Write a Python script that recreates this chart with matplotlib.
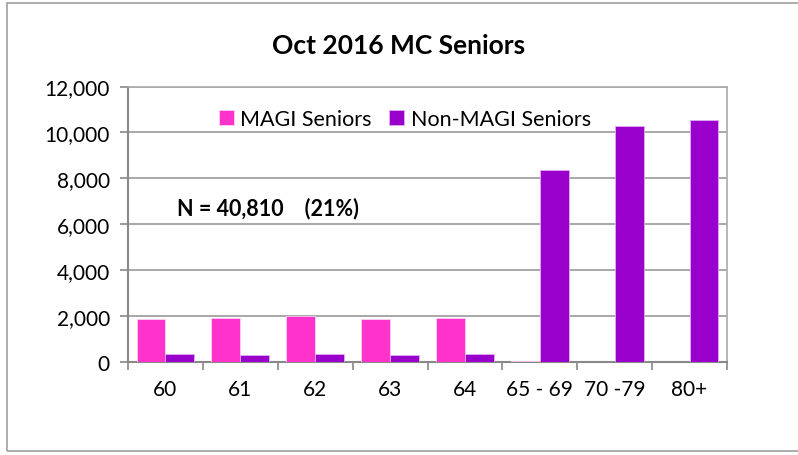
import numpy as np
import matplotlib.pyplot as plt
from matplotlib.patches import Rectangle

# Data
categories = ["60", "61", "62", "63", "64", "65 - 69", "70 -79", "80+"]
magi = [1870, 1935, 1995, 1880, 1920, 60, 0, 0]
non_magi = [350, 320, 350, 320, 350, 8380, 10275, 10525]
yticks = [0, 2000, 4000, 6000, 8000, 10000, 12000]

plt.rcParams['font.family'] = ['Lato', 'DejaVu Sans']

fig = plt.figure(figsize=(7.98, 4.56), dpi=100)
ax = fig.add_axes([128 / 798, 93 / 456, 599 / 798, 275.5 / 456])

# outer chart frame
fig.patches.append(Rectangle((7 / 798, 4 / 456), 1.0, 448 / 456, transform=fig.transFigure,
                             fill=False, edgecolor='#a0a0a0', linewidth=1.2))

x = np.arange(len(categories))
w = 0.385
ax.bar(x - w / 2, magi, width=w, color='#ff33cc', edgecolor='#ffd0f0', linewidth=0.6,
       label='MAGI Seniors', zorder=3)
ax.bar(x + w / 2, non_magi, width=w, color='#9900cc', edgecolor='#e0b0f0', linewidth=0.6,
       label='Non-MAGI Seniors', zorder=3)

ax.set_xlim(-0.5, len(categories) - 0.5)
ax.set_ylim(0, 12000)
ax.set_yticks(yticks)
ax.set_yticklabels([f"{v:,}" for v in yticks], fontsize=15)
ax.set_xticks(x)
ax.set_xticklabels(categories, fontsize=15)
ax.set_xticks(np.arange(len(categories) + 1) - 0.5, minor=True)
ax.tick_params(axis='x', which='major', length=0, pad=12)
ax.tick_params(axis='x', which='minor', length=6, color='#888888', width=1.2)
ax.tick_params(axis='y', length=6, color='#888888', width=1.2, pad=7)

ax.grid(axis='y', color='#999999', linewidth=1.2, zorder=0)
for side in ['left', 'bottom']:
    ax.spines[side].set_color('#888888')
    ax.spines[side].set_linewidth(1.5)
for side in ['top', 'right']:
    ax.spines[side].set_color('#aaaaaa')
    ax.spines[side].set_linewidth(1.2)

fig.text(0.5, 1 - 46 / 456, "Oct 2016 MC Seniors", ha='center', va='center',
         fontsize=19, fontweight='bold')

ax.legend(loc='upper center', bbox_to_anchor=(0.462, 0.99), ncol=2, frameon=False,
          fontsize=15.5, handlelength=0.7, handleheight=0.7, handletextpad=0.3,
          columnspacing=0.8)

ax.text(0.082, 0.562, "N = 40,810    (21%)", transform=ax.transAxes, fontsize=15.5,
        fontweight='bold', ha='left', va='center')

fig.savefig("out.png", dpi=100)
